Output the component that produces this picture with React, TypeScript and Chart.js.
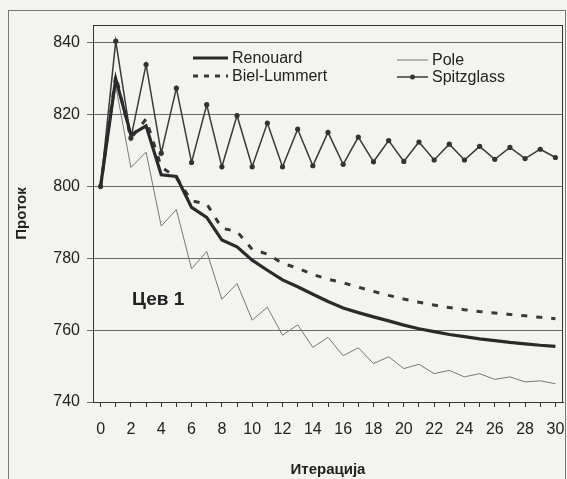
import React, { useEffect, useRef } from 'react';
import { Chart, registerables } from 'chart.js';

Chart.register(...registerables);

const iterations = [0, 1, 2, 3, 4, 5, 6, 7, 8, 9, 10, 11, 12, 13, 14, 15, 16, 17, 18, 19, 20, 21, 22, 23, 24, 25, 26, 27, 28, 29, 30];

const renouard = [800, 830, 814.4, 816.9, 803.3, 802.8, 794.2, 791.4, 785.1, 783.2, 779.5, 776.7, 774, 772.1, 770, 768, 766.2, 764.9, 763.7, 762.6, 761.4, 760.4, 759.6, 758.8, 758.2, 757.6, 757.1, 756.6, 756.2, 755.8, 755.5];
const bielLummert = [800, 831, 813.5, 818.8, 805.5, 802.5, 796, 795.2, 788.4, 787.5, 782.5, 781.2, 778.6, 777.3, 775.5, 774.2, 773.2, 772, 770.8, 769.7, 768.7, 767.8, 767, 766.3, 765.7, 765.2, 764.8, 764.4, 764, 763.6, 763.2];
const pole = [800, 828, 805.3, 809.6, 789, 793.6, 777.1, 781.9, 768.6, 773, 762.8, 766.4, 758.6, 761.5, 755.2, 758, 752.9, 755.1, 750.7, 752.6, 749.3, 750.5, 747.9, 748.8, 747, 747.9, 746.3, 747, 745.6, 745.9, 745.1];
const spitzglass = [800, 840.5, 813.5, 834, 809.3, 827.4, 806.7, 822.8, 805.5, 819.8, 805.5, 817.7, 805.5, 816, 805.8, 815.1, 806.2, 813.8, 806.9, 812.8, 807, 812.4, 807.4, 811.8, 807.4, 811.2, 807.6, 810.9, 807.8, 810.4, 808.1];

const yTicks = [740, 760, 780, 800, 820, 840];
const xTickLabels = [0, 2, 4, 6, 8, 10, 12, 14, 16, 18, 20, 22, 24, 26, 28, 30];

const seriesNames = ['Renouard', 'Biel-Lummert', 'Pole', 'Spitzglass'];
const annotationText = 'Цев 1';
const xTitle = 'Итерација';
const yTitle = 'Проток';

const FONT = '"Liberation Sans", Arial, Helvetica, sans-serif';

const toPoints = (vals: number[]) => iterations.map((x, i) => ({ x, y: vals[i] }));

export default function App() {
  const ref = useRef<HTMLCanvasElement | null>(null);

  useEffect(() => {
    if (!ref.current) return;

    const decorPlugin = {
      id: 'decor',
      afterDraw(chart: any) {
        const { ctx, chartArea, scales } = chart;
        ctx.save();
        // plot frame
        ctx.strokeStyle = '#333';
        ctx.lineWidth = 1;
        ctx.strokeRect(chartArea.left + 0.5, chartArea.top + 0.5, chartArea.right - chartArea.left - 1, chartArea.bottom - chartArea.top);

        // legend
        const ds = chart.data.datasets;
        const items = [
          { i: 0, x: chartArea.left + 100, y: chartArea.top + 33 },
          { i: 1, x: chartArea.left + 100, y: chartArea.top + 51 },
          { i: 2, x: chartArea.left + 304, y: chartArea.top + 35 },
          { i: 3, x: chartArea.left + 304, y: chartArea.top + 52 },
        ];
        ctx.font = '16px ' + FONT;
        ctx.textBaseline = 'middle';
        ctx.textAlign = 'left';
        items.forEach(({ i, x, y }) => {
          const d = ds[i];
          const w = i < 2 ? 35 : 31;
          ctx.strokeStyle = d.borderColor;
          ctx.lineWidth = d.borderWidth;
          ctx.setLineDash(i === 1 ? [5, 6] : []);
          ctx.beginPath();
          ctx.moveTo(x, y);
          ctx.lineTo(x + w, y);
          ctx.stroke();
          ctx.setLineDash([]);
          if (i === 3) {
            ctx.fillStyle = d.pointBackgroundColor;
            ctx.beginPath();
            ctx.arc(x + w / 2, y, 2.5, 0, Math.PI * 2);
            ctx.fill();
          }
          ctx.fillStyle = '#222';
          ctx.fillText(d.label, x + w + 4, y + 1);
        });

        // annotation
        ctx.font = 'bold 19px ' + FONT;
        ctx.fillStyle = '#222';
        ctx.textAlign = 'center';
        ctx.fillText(annotationText, scales.x.getPixelForValue(3.8), scales.y.getPixelForValue(768.4));
        ctx.restore();
      },
    };

    const chart = new Chart(ref.current, {
      type: 'line',
      data: {
        datasets: [
          {
            label: seriesNames[0],
            data: toPoints(renouard),
            borderColor: '#2a2a2a',
            borderWidth: 3.2,
            pointRadius: 0,
            tension: 0,
          },
          {
            label: seriesNames[1],
            data: toPoints(bielLummert),
            borderColor: '#383838',
            borderWidth: 3,
            borderDash: [6, 9],
            pointRadius: 0,
            tension: 0,
          },
          {
            label: seriesNames[2],
            data: toPoints(pole),
            borderColor: '#777',
            borderWidth: 1,
            pointRadius: 0,
            tension: 0,
          },
          {
            label: seriesNames[3],
            data: toPoints(spitzglass),
            borderColor: '#3a3a3a',
            borderWidth: 1.5,
            pointRadius: 2.6,
            pointBackgroundColor: '#333',
            pointBorderWidth: 0,
            tension: 0,
          },
        ] as any,
      },
      options: {
        animation: false,
        responsive: false,
        devicePixelRatio: 1,
        layout: { padding: { top: 25, right: 4, left: 0, bottom: 0 } },
        plugins: { legend: { display: false }, tooltip: { enabled: false } },
        scales: {
          x: {
            type: 'linear',
            min: -0.5,
            max: 30.5,
            afterBuildTicks: (s: any) => {
              s.ticks = iterations.map((v) => ({ value: v }));
            },
            afterFit: (s: any) => {
              s.height = 77;
              s.paddingLeft = 0;
              s.paddingRight = 0;
            },
            ticks: {
              autoSkip: false,
              maxRotation: 0,
              minRotation: 0,
              padding: 13,
              color: '#222',
              font: { family: FONT, size: 16 },
              callback: (v: any) => (xTickLabels.includes(Number(v)) ? String(v) : ''),
            },
            grid: { drawOnChartArea: false, drawTicks: true, tickLength: 5, color: '#333' },
            border: { display: true, color: '#333', width: 1 },
            title: {
              display: true,
              text: xTitle,
              color: '#222',
              font: { family: FONT, size: 15, weight: 'bold' },
              padding: { top: 0, bottom: 0 },
            },
          },
          y: {
            type: 'linear',
            min: 740,
            max: 845,
            afterBuildTicks: (s: any) => {
              s.ticks = yTicks.map((v) => ({ value: v }));
            },
            afterFit: (s: any) => {
              s.width = 93;
              s.paddingTop = 0;
              s.paddingBottom = 0;
            },
            ticks: {
              padding: 7,
              color: '#222',
              font: { family: FONT, size: 16 },
            },
            grid: { color: '#6a6a6a', tickLength: 6, lineWidth: 1 },
            border: { display: true, color: '#333', width: 1 },
            title: {
              display: true,
              text: yTitle,
              color: '#222',
              font: { family: FONT, size: 15, weight: 'bold' },
              padding: { top: 13, bottom: 0 },
            },
          },
        },
      } as any,
      plugins: [decorPlugin],
    });

    return () => chart.destroy();
  }, []);

  return (
    <div style={{ position: 'fixed', left: 0, top: 0, width: 567, height: 479, background: '#f3f3f0', overflow: 'hidden' }}>
      <div style={{ position: 'absolute', left: 8, top: 10, width: 556, height: 490, borderLeft: '1px solid #777', borderTop: '1px solid #777', borderRight: '1px solid #777' }} />
      <canvas ref={ref} width={567} height={479} style={{ position: 'absolute', left: 0, top: 0, width: 567, height: 479 }} />
    </div>
  );
}
